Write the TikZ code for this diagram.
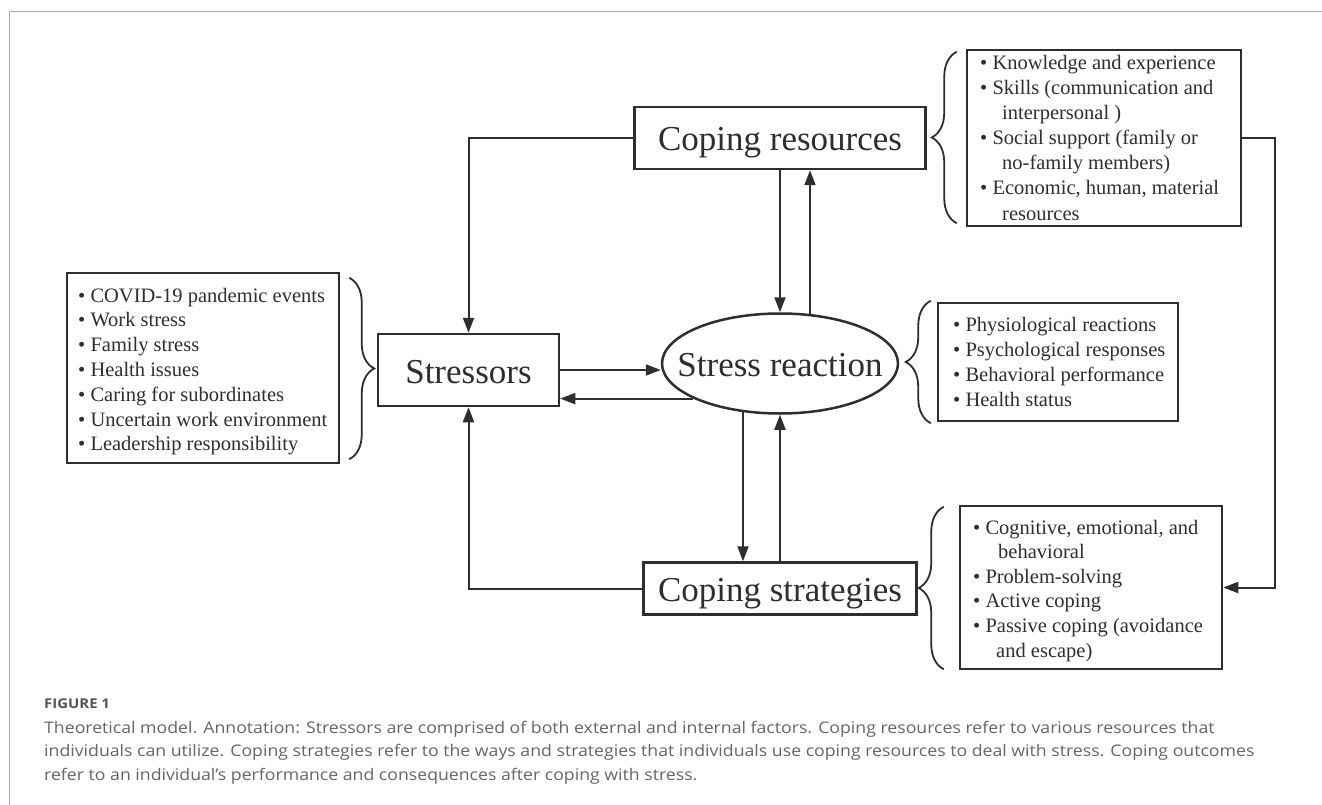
\documentclass[tikz,border=0pt]{standalone}
\usepackage{fontspec}
\setmainfont{Liberation Serif}
\newfontfamily\capfont[FakeStretch=1.105]{Open Sans}
\usetikzlibrary{arrows.meta,decorations.pathreplacing,calc,shapes.geometric}
\definecolor{ink}{HTML}{2E2E2E}
\definecolor{framegray}{HTML}{AAAAAA}
\definecolor{captxt}{HTML}{666666}
\definecolor{caphead}{HTML}{555555}
\begin{document}
\begin{tikzpicture}[x=1pt,y=-1pt,
  bigbox/.style={draw=ink, line width=2.5pt, inner sep=0pt, text height=26pt, text depth=0pt, font=\fontsize{35}{40}\selectfont, text=ink},
  listbox/.style={draw=ink, line width=2.5pt, inner sep=0pt},
  item/.style={anchor=base west, inner sep=0pt, font=\fontsize{20.5}{25}\selectfont, text=ink},
  arr/.style={draw=ink, line width=2pt, -{Triangle[length=15pt,width=11pt]}},
  brc/.style={draw=ink, line width=1.8pt, decorate, decoration={brace, amplitude=25pt}},
  capline/.style={anchor=base west, inner sep=0pt, font=\capfont\fontsize{16}{20}\selectfont, text=captxt}]
\useasboundingbox (0,0) rectangle (1322,805);
\fill[white] (0,0) rectangle (1322,805);
% frame
\draw[framegray, line width=1.5pt] (9.5,805) -- (9.5,11.5) -- (1322,11.5);

% main nodes
\node[bigbox, minimum width=291pt, minimum height=62pt] (cr) at (780,138) {Coping resources};
\node[bigbox, minimum width=181pt, minimum height=72pt] (st) at (468.5,370) {Stressors};
\node[bigbox, ellipse, minimum width=236pt, minimum height=100pt] (sr) at (780,363.5) {\makebox[0pt]{Stress reaction}};
\node[bigbox, minimum width=273pt, minimum height=52pt] (cs) at (780,588.5) {Coping strategies};

% list boxes
\node[listbox, minimum width=272pt, minimum height=190pt] (lb) at (203,368) {};
\node[listbox, minimum width=274pt, minimum height=176pt] (trb) at (1104,138) {};
\node[listbox, minimum width=240pt, minimum height=118pt] (mrb) at (1058,362) {};
\node[listbox, minimum width=262pt, minimum height=163pt] (brb) at (1091,587.5) {};

% braces
\draw[brc] ($(lb.north east)+(9,6)$) -- ($(lb.south east)+(9,-5)$);
\draw[brc] ($(trb.south west)+(-9,-4)$) -- ($(trb.north west)+(-9,3)$);
\draw[brc] ($(mrb.south west)+(-6,1)$) -- ($(mrb.north west)+(-6,-1)$);
\draw[brc] ($(brb.south west)+(-15,-1)$) -- ($(brb.north west)+(-15,2)$);

% connectors
\coordinate (srne) at ($(sr.center)+(30,-48.4)$);
\coordinate (srsw) at ($(sr.center)+(-37,47.5)$);
\draw[arr] (cr.west) -| (st.north);
\draw[arr] (cs.west) -| (st.south);
\draw[arr] (cr.south) -- (sr.north);
\draw[arr] (srne) -- (srne |- cr.south);
\draw[arr] (srsw) -- (srsw |- cs.north);
\draw[arr] (cs.north) -- (sr.south);
\draw[arr] (st.east) -- (st.east -| sr.west);
\draw[arr] (sr.202) -- (sr.202 -| st.east);
\draw[arr] (trb.east) -- ++(33,0) |- (brb.east);

% left list
\node[item] (l1) at (78,302) {\textbullet\ COVID-19 pandemic events};
\node[item] (l2) at (78,326.8) {\textbullet\ Work stress};
\node[item] (l3) at (78,351.6) {\textbullet\ Family stress};
\node[item] (l4) at (78,376.4) {\textbullet\ Health issues};
\node[item] (l5) at (78,401.2) {\textbullet\ Caring for subordinates};
\node[item] (l6) at (78,426) {\textbullet\ Uncertain work environment};
\node[item] (l7) at (78,450.8) {\textbullet\ Leadership responsibility};

% top-right list
\node[item] (t1) at (980,70) {\textbullet\ Knowledge and experience};
\node[item] (t2) at (980,95) {\textbullet\ Skills (communication and};
\node[item] (t3) at (1002,120) {interpersonal )};
\node[item] (t4) at (980,145) {\textbullet\ Social support (family or};
\node[item] (t5) at (1002,170) {no-family members)};
\node[item] (t6) at (980,195) {\textbullet\ Economic, human, material};
\node[item] (t7) at (1002,220) {resources};

% middle-right list
\node[item] (m1) at (953,331.5) {\textbullet\ Physiological reactions};
\node[item] (m2) at (953,356.5) {\textbullet\ Psychological responses};
\node[item] (m3) at (953,381.5) {\textbullet\ Behavioral performance};
\node[item] (m4) at (953,406.5) {\textbullet\ Health status};

% bottom-right list
\node[item] (b1) at (973,534) {\textbullet\ Cognitive, emotional, and};
\node[item] (b2) at (998,558.6) {behavioral};
\node[item] (b3) at (973,583.2) {\textbullet\ Problem-solving};
\node[item] (b4) at (973,607.8) {\textbullet\ Active coping};
\node[item] (b5) at (973,632.4) {\textbullet\ Passive coping (avoidance};
\node[item] (b6) at (996,657) {and escape)};

% caption
\node[anchor=base west, inner sep=0pt, font=\capfont\bfseries\fontsize{13.5}{16}\selectfont, text=caphead] (fig) at (44,708.3) {FIGURE 1};
\node[capline] (c1) at (44,733.3) {Theoretical model. Annotation: Stressors are comprised of both external and internal factors. Coping resources refer to various resources that};
\node[capline] (c2) at (44,756.7) {individuals can utilize. Coping strategies refer to the ways and strategies that individuals use coping resources to deal with stress. Coping outcomes};
\node[capline] (c3) at (44,780) {refer to an individual’s performance and consequences after coping with stress.};
\end{tikzpicture}
\end{document}
